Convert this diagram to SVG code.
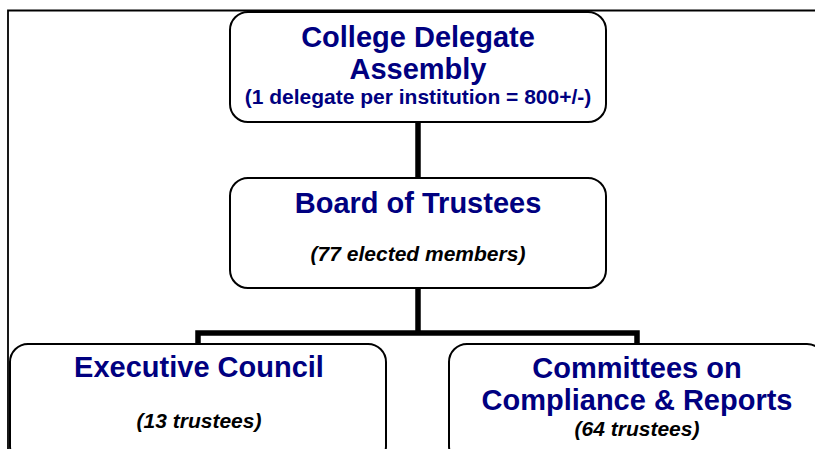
<svg xmlns="http://www.w3.org/2000/svg" width="815" height="449" viewBox="0 0 815 449">
<style>
.box{fill:#fff;stroke:#000;stroke-width:2}
.t{font-family:"Liberation Sans",Arial,sans-serif;font-weight:bold;fill:#000080;text-anchor:middle;font-size:29px}
.s{font-family:"Liberation Sans",Arial,sans-serif;font-weight:bold;fill:#000080;text-anchor:middle;font-size:21px}
.i{font-family:"Liberation Sans",Arial,sans-serif;font-weight:bold;font-style:italic;fill:#000;text-anchor:middle;font-size:21px}
.c{fill:none;stroke:#000;stroke-width:5.5}
</style>
<rect width="815" height="449" fill="#fff"/>
<path d="M8,449 V10.5 H815" fill="none" stroke="#000" stroke-width="1.8"/>
<g id="connectors">
<path class="c" d="M418,122 V178"/>
<path class="c" d="M418,288 V333"/>
<path class="c" d="M198,344 V333 H637 V344"/>
</g>
<g id="assembly">
<rect class="box" x="230" y="12" width="376" height="110" rx="18"/>
<text class="t" x="418" y="47">College Delegate</text>
<text class="t" x="418" y="79">Assembly</text>
<text class="s" x="418" y="104">(1 delegate per institution = 800+/-)</text>
</g>
<g id="board">
<rect class="box" x="230" y="178" width="376" height="110" rx="18"/>
<text class="t" x="418" y="213">Board of Trustees</text>
<text class="i" x="418" y="261">(77 elected members)</text>
</g>
<g id="executive">
<rect class="box" x="10" y="344" width="376" height="120" rx="18"/>
<text class="t" x="199" y="377">Executive Council</text>
<text class="i" x="199" y="428">(13 trustees)</text>
</g>
<g id="committees">
<rect class="box" x="449" y="344" width="376" height="120" rx="18"/>
<text class="t" x="637" y="378">Committees on</text>
<text class="t" x="637" y="410">Compliance &amp; Reports</text>
<text class="i" x="637" y="436">(64 trustees)</text>
</g>
</svg>
